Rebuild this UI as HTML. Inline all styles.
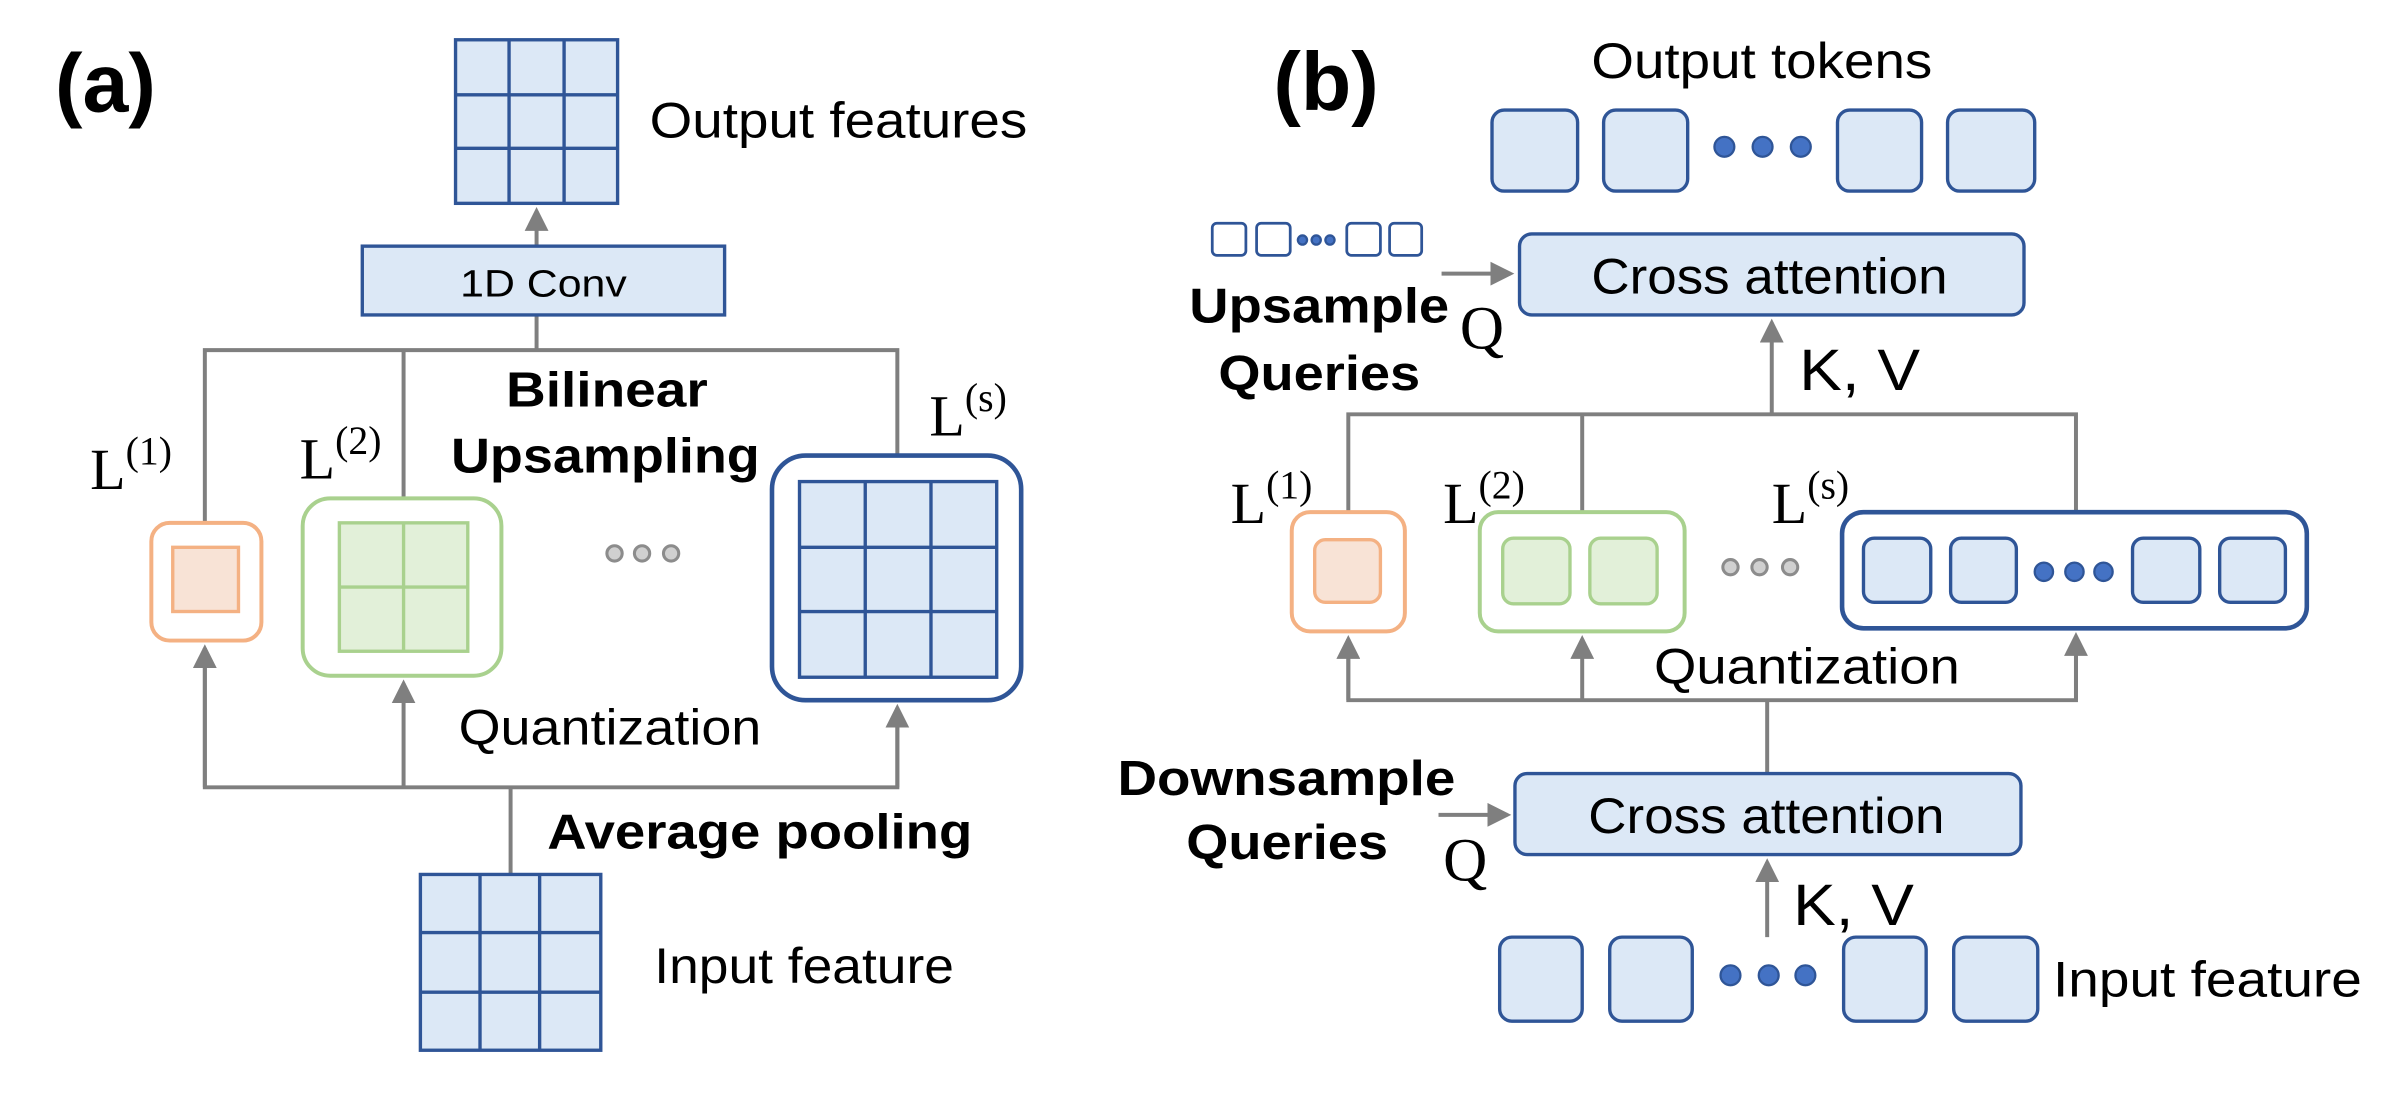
<!DOCTYPE html>
<html><head><meta charset="utf-8"><style>
html,body{margin:0;padding:0;background:#fff;}
svg{display:block;}
text{font-family:"Liberation Sans",sans-serif;fill:#000;}
.s{font-family:"Liberation Serif",serif;}
.b{font-weight:bold;}
</style></head><body>
<svg width="2397" height="1118" viewBox="0 0 1568 731.3" xmlns="http://www.w3.org/2000/svg">
<defs>
<marker id="ar" markerWidth="6" markerHeight="6" refX="5" refY="3" orient="auto" markerUnits="strokeWidth">
<path d="M0,0 L6,3 L0,6 z" fill="#7f7f7f"/></marker>
</defs>
<g stroke="#7f7f7f" stroke-width="2.6" fill="none">
<line x1="351" y1="229" x2="351" y2="206"/>
<line x1="351" y1="161" x2="351" y2="138" marker-end="url(#ar)"/>
<polyline points="134,342 134,229 587,229 587,298"/>
<line x1="264" y1="229" x2="264" y2="326"/>
<polyline points="134,424 134,515 587,515 587,463"/>
<line x1="134" y1="515" x2="134" y2="424" marker-end="url(#ar)"/>
<line x1="264" y1="515" x2="264" y2="447" marker-end="url(#ar)"/>
<line x1="587" y1="515" x2="587" y2="463" marker-end="url(#ar)"/>
<line x1="334" y1="572" x2="334" y2="515"/>
<line x1="943" y1="179" x2="988" y2="179" marker-end="url(#ar)"/>
<line x1="1159" y1="271" x2="1159" y2="211" marker-end="url(#ar)"/>
<polyline points="882,335 882,271 1358,271 1358,335"/>
<line x1="1035" y1="271" x2="1035" y2="335"/>
<polyline points="882,418 882,458 1358,458 1358,416"/>
<line x1="882" y1="458" x2="882" y2="418" marker-end="url(#ar)"/>
<line x1="1035" y1="458" x2="1035" y2="418" marker-end="url(#ar)"/>
<line x1="1358" y1="458" x2="1358" y2="416" marker-end="url(#ar)"/>
<line x1="1156" y1="506" x2="1156" y2="458"/>
<line x1="941" y1="533" x2="986" y2="533" marker-end="url(#ar)"/>
<line x1="1156" y1="613" x2="1156" y2="564" marker-end="url(#ar)"/>
</g>

<g stroke="#2F5597" stroke-width="2.2" fill="#DCE8F6">
<rect x="298" y="26" width="106" height="107"/>
<path d="M333,26V133M369,26V133M298,62H404M298,97H404" fill="none"/>
<rect x="237" y="161" width="237" height="45"/>
<rect x="275" y="572" width="118" height="115"/>
<path d="M314,572V687M353,572V687M275,610H393M275,649H393" fill="none"/>
<rect x="505" y="298" width="163" height="160" rx="22" fill="#fff" stroke-width="3"/>
<rect x="523" y="315" width="129" height="128"/>
<path d="M566,315V443M609,315V443M523,358H652M523,400H652" fill="none"/>
</g>
<rect x="99" y="342" width="72" height="77" rx="12" fill="#fff" stroke="#F4B183" stroke-width="2.6"/>
<rect x="113" y="358" width="43" height="42" fill="#F8E3D6" stroke="#F4B183" stroke-width="2.2"/>
<rect x="198" y="326" width="130" height="116" rx="18" fill="#fff" stroke="#A9D18E" stroke-width="2.6"/>
<rect x="222" y="342" width="84" height="84" fill="#E2F0D9" stroke="#A9D18E" stroke-width="2.2"/>
<path d="M264,342V426M222,384H306" stroke="#A9D18E" stroke-width="2.2"/>
<g fill="#d0d0d0" stroke="#8c8c8c" stroke-width="2"><circle cx="402" cy="362" r="5"/><circle cx="420" cy="362" r="5"/><circle cx="439" cy="362" r="5"/></g>

<text x="36" y="73" class="b" font-size="54">(a)</text>
<text x="425" y="90" font-size="33" textLength="247" lengthAdjust="spacingAndGlyphs">Output features</text>
<text x="301" y="194" font-size="25" textLength="109" lengthAdjust="spacingAndGlyphs">1D Conv</text>
<text x="59" y="320" class="s" font-size="38">L<tspan font-size="26" dy="-16">(1)</tspan></text>
<text x="196" y="313" class="s" font-size="38">L<tspan font-size="26" dy="-16">(2)</tspan></text>
<text x="608" y="285" class="s" font-size="38">L<tspan font-size="26" dy="-16">(s)</tspan></text>
<text x="331" y="266" class="b" font-size="32" textLength="132" lengthAdjust="spacingAndGlyphs">Bilinear</text>
<text x="295" y="309" class="b" font-size="32" textLength="202" lengthAdjust="spacingAndGlyphs">Upsampling</text>
<text x="300" y="487" font-size="33" textLength="198" lengthAdjust="spacingAndGlyphs">Quantization</text>
<text x="358" y="555" class="b" font-size="32" textLength="278" lengthAdjust="spacingAndGlyphs">Average pooling</text>
<text x="428" y="643" font-size="33" textLength="196" lengthAdjust="spacingAndGlyphs">Input feature</text>

<text x="833" y="72" class="b" font-size="54">(b)</text>
<text x="1041" y="51" font-size="33" textLength="223" lengthAdjust="spacingAndGlyphs">Output tokens</text>
<g stroke="#2F5597" stroke-width="2.2" fill="#DCE8F6">
<rect x="976" y="72" width="56" height="53" rx="8"/><rect x="1049" y="72" width="55" height="53" rx="8"/>
<rect x="1202" y="72" width="55" height="53" rx="8"/><rect x="1274" y="72" width="57" height="53" rx="8"/>
<rect x="793" y="146" width="22" height="21" rx="3" fill="#fff" stroke-width="1.8"/><rect x="822" y="146" width="22" height="21" rx="3" fill="#fff" stroke-width="1.8"/>
<rect x="881" y="146" width="22" height="21" rx="3" fill="#fff" stroke-width="1.8"/><rect x="909" y="146" width="21" height="21" rx="3" fill="#fff" stroke-width="1.8"/>
<rect x="994" y="153" width="330" height="53" rx="8"/>
<rect x="991" y="506" width="331" height="53" rx="8"/>
<rect x="981" y="613" width="54" height="55" rx="8"/><rect x="1053" y="613" width="54" height="55" rx="8"/>
<rect x="1206" y="613" width="54" height="55" rx="8"/><rect x="1278" y="613" width="55" height="55" rx="8"/>
<rect x="1205" y="335" width="304" height="76" rx="14" fill="#fff" stroke-width="3"/>
<rect x="1219" y="352" width="44" height="42" rx="7"/><rect x="1276" y="352" width="43" height="42" rx="7"/>
<rect x="1395" y="352" width="44" height="42" rx="7"/><rect x="1452" y="352" width="43" height="42" rx="7"/>
</g>
<g fill="#4472C4" stroke="#2F5597" stroke-width="1.5">
<circle cx="1128" cy="96" r="6.5"/><circle cx="1153" cy="96" r="6.5"/><circle cx="1178" cy="96" r="6.5"/>
<circle cx="852" cy="157" r="3"/><circle cx="861" cy="157" r="3"/><circle cx="870" cy="157" r="3"/>
<circle cx="1337" cy="374" r="6"/><circle cx="1357" cy="374" r="6"/><circle cx="1376" cy="374" r="6"/>
<circle cx="1132" cy="638" r="6.5"/><circle cx="1157" cy="638" r="6.5"/><circle cx="1181" cy="638" r="6.5"/>
</g>
<rect x="845" y="335" width="74" height="78" rx="12" fill="#fff" stroke="#F4B183" stroke-width="2.6"/>
<rect x="860" y="353" width="43" height="41" rx="7" fill="#F8E3D6" stroke="#F4B183" stroke-width="2.2"/>
<rect x="968" y="335" width="134" height="78" rx="12" fill="#fff" stroke="#A9D18E" stroke-width="2.6"/>
<rect x="983" y="352" width="44" height="43" rx="7" fill="#E2F0D9" stroke="#A9D18E" stroke-width="2.2"/>
<rect x="1040" y="352" width="44" height="43" rx="7" fill="#E2F0D9" stroke="#A9D18E" stroke-width="2.2"/>
<g fill="#d0d0d0" stroke="#8c8c8c" stroke-width="2"><circle cx="1132" cy="371" r="5"/><circle cx="1151" cy="371" r="5"/><circle cx="1171" cy="371" r="5"/></g>

<text x="1041" y="192" font-size="33" textLength="233" lengthAdjust="spacingAndGlyphs">Cross attention</text>
<text x="1039" y="545" font-size="33" textLength="233" lengthAdjust="spacingAndGlyphs">Cross attention</text>
<text x="778" y="211" class="b" font-size="32" textLength="170" lengthAdjust="spacingAndGlyphs">Upsample</text>
<text x="797" y="255" class="b" font-size="32" textLength="132" lengthAdjust="spacingAndGlyphs">Queries</text>
<text x="955" y="228" class="s" font-size="40">Q</text>
<text x="1177" y="255" font-size="38" textLength="79" lengthAdjust="spacingAndGlyphs">K, V</text>
<text x="805" y="342" class="s" font-size="38">L<tspan font-size="26" dy="-16">(1)</tspan></text>
<text x="944" y="342" class="s" font-size="38">L<tspan font-size="26" dy="-16">(2)</tspan></text>
<text x="1159" y="342" class="s" font-size="38">L<tspan font-size="26" dy="-16">(s)</tspan></text>
<text x="1082" y="447" font-size="33" textLength="200" lengthAdjust="spacingAndGlyphs">Quantization</text>
<text x="731" y="520" class="b" font-size="32" textLength="221" lengthAdjust="spacingAndGlyphs">Downsample</text>
<text x="776" y="562" class="b" font-size="32" textLength="132" lengthAdjust="spacingAndGlyphs">Queries</text>
<text x="944" y="576" class="s" font-size="40">Q</text>
<text x="1173" y="605" font-size="38" textLength="79" lengthAdjust="spacingAndGlyphs">K, V</text>
<text x="1343" y="652" font-size="33" textLength="202" lengthAdjust="spacingAndGlyphs">Input feature</text>
</svg>
</body></html>
